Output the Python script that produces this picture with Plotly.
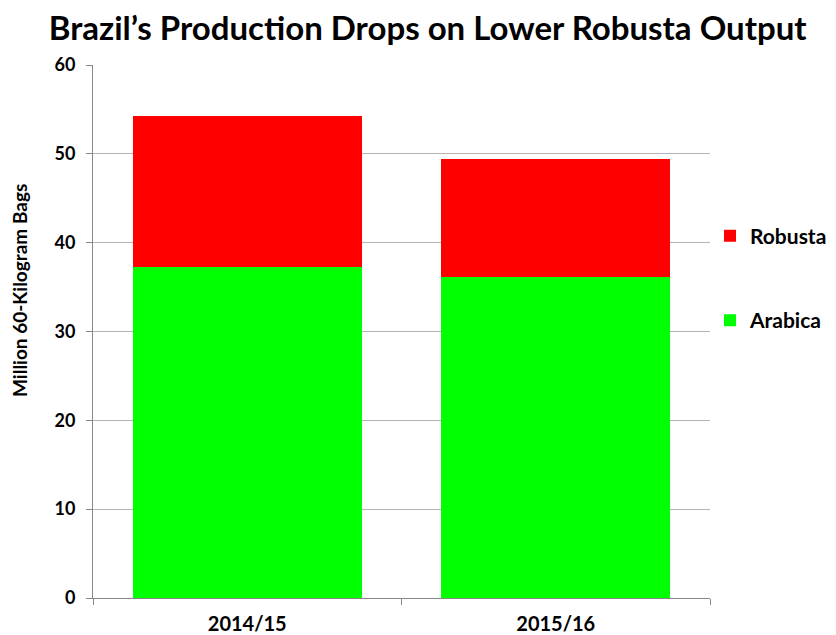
import plotly.graph_objects as go

years = ["2014/15", "2015/16"]
arabica = [37.3, 36.1]
robusta = [17.0, 13.3]
y_ticks = [0, 10, 20, 30, 40, 50, 60]

FONT = "Lato, Open Sans, Liberation Sans, Arial"

fig = go.Figure()
fig.add_trace(go.Bar(x=years, y=arabica, name="<b>Arabica</b>", marker=dict(color="#00FF00", line=dict(width=0)),
                     width=0.742, legendgroup="a", legendrank=2))
fig.add_trace(go.Bar(x=years, y=robusta, name="<b>Robusta</b>", marker=dict(color="#FF0000", line=dict(width=0)),
                     width=0.742, legendgroup="r", legendrank=1))

fig.update_layout(
    barmode="stack",
    width=836, height=635,
    paper_bgcolor="white", plot_bgcolor="white",
    margin=dict(l=85, r=134, t=57, b=45),
    title=dict(text="<b>Brazil’s Production Drops on Lower Robusta Output</b>",
               x=0.502, xanchor="center", y=0.968, yanchor="middle",
               font=dict(family=FONT, size=33, color="black")),
    legend=dict(x=1.0, xanchor="left", y=0.6, yanchor="middle", traceorder="grouped",
                tracegroupgap=54, font=dict(family=FONT, size=21, color="black"),
                itemwidth=30, bgcolor="rgba(0,0,0,0)"),
    font=dict(family=FONT, color="black"),
    annotations=[dict(text="<b>Million 60-Kilogram Bags</b>", textangle=-90,
                      xref="paper", yref="paper", x=0, y=0.576, xanchor="center", yanchor="middle",
                      xshift=-73, showarrow=False, font=dict(family=FONT, size=19, color="black"))],
)
fig.update_xaxes(type="category", tickson="boundaries", ticks="outside", ticklen=6, tickcolor="#888888",
                 showline=True, linecolor="#888888", linewidth=1, showgrid=False, automargin=False,
                 tickfont=dict(family=FONT, size=20, color="black"), ticklabelstandoff=8,
                 ticktext=[f"<b>{y}</b>" for y in years], tickvals=years)
fig.update_yaxes(range=[0, 60], tickvals=y_ticks, ticktext=[f"<b>{v}</b>" for v in y_ticks],
                 ticks="outside", ticklen=6, tickcolor="#888888", automargin=False,
                 showline=True, linecolor="#888888", linewidth=1,
                 showgrid=True, gridcolor="#b4b4b4", gridwidth=1, zeroline=False,
                 tickfont=dict(family=FONT, size=18, color="black"), ticklabelstandoff=7)
fig.write_html("out.html")
